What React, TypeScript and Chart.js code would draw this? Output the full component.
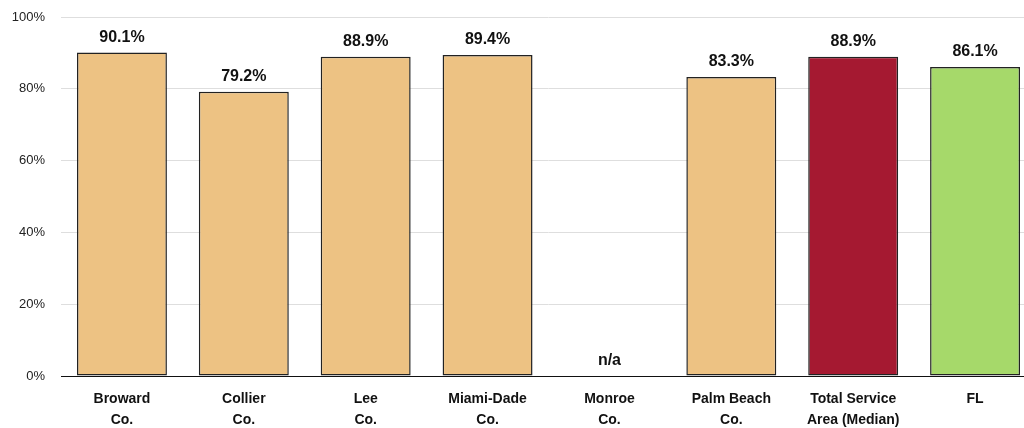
import React, { useEffect, useRef } from "react";
import { Chart, registerables } from "chart.js";

Chart.register(...registerables);

const categories: string[][] = [
  ["Broward", "Co."],
  ["Collier", "Co."],
  ["Lee", "Co."],
  ["Miami-Dade", "Co."],
  ["Monroe", "Co."],
  ["Palm Beach", "Co."],
  ["Total Service", "Area (Median)"],
  ["FL"],
];
const values: (number | null)[] = [90.1, 79.2, 88.9, 89.4, null, 83.3, 88.9, 86.1];
const barColors: string[] = ["#EDC283", "#EDC283", "#EDC283", "#EDC283", "#EDC283", "#EDC283", "#A51931", "#A6D96A"];
const yTicks: number[] = [0, 20, 40, 60, 80, 100];
const missingLabel = "n/a";

const FONT = "'Liberation Sans', Arial, sans-serif";

const labelPlugin = {
  id: "valueLabels",
  afterDatasetsDraw(chart: any) {
    const ctx = chart.ctx;
    const meta = chart.getDatasetMeta(0);
    const yScale = chart.scales.y;
    ctx.save();
    ctx.font = `bold 16px ${FONT}`;
    ctx.fillStyle = "#111";
    ctx.textAlign = "center";
    ctx.textBaseline = "alphabetic";
    values.forEach((v, i) => {
      const el = meta.data[i];
      const x = el.x;
      if (v === null) {
        ctx.fillText(missingLabel, x, yScale.getPixelForValue(0) - 11);
      } else {
        ctx.fillText(v.toFixed(1) + "%", x, yScale.getPixelForValue(v) - 11);
      }
    });
    ctx.restore();
  },
};

export default function App() {
  const ref = useRef<HTMLCanvasElement>(null);
  useEffect(() => {
    document.body.style.margin = "0";
    document.body.style.overflow = "hidden";
    const chart = new Chart(ref.current!, {
      type: "bar",
      data: {
        labels: categories,
        datasets: [
          {
            data: values,
            backgroundColor: barColors,
            borderColor: "#222222",
            borderWidth: 1.5,
            borderSkipped: false,
            categoryPercentage: 1,
            barPercentage: 0.738,
          },
        ],
      },
      options: {
        animation: false,
        responsive: false,
        maintainAspectRatio: false,
        layout: { padding: { top: 17, right: 4, left: 0, bottom: 0 } },
        plugins: { legend: { display: false }, tooltip: { enabled: false } },
        scales: {
          x: {
            grid: { display: false },
            border: { display: true, color: "#111", width: 1 },
            ticks: {
              color: "#111",
              font: { family: FONT, size: 14, weight: "bold", lineHeight: 1.5 },
              padding: 5,
              maxRotation: 0,
              autoSkip: false,
            },
            afterFit: (s: any) => {
              s.height = 52;
            },
          },
          y: {
            min: 0,
            max: 100,
            afterBuildTicks: (s: any) => {
              s.ticks = yTicks.map((v) => ({ value: v }));
            },
            grid: { color: "#dedede", drawTicks: false },
            border: { display: false },
            ticks: {
              color: "#222",
              font: { family: FONT, size: 13 },
              padding: 16,
              callback: (v: any) => v + "%",
            },
            afterFit: (s: any) => {
              s.width = 61;
              s.paddingTop = 0;
              s.paddingBottom = 0;
            },
          },
        },
      },
      plugins: [labelPlugin],
    });
    return () => chart.destroy();
  }, []);
  return (
    <div style={{ width: 1024, height: 428, overflow: "hidden" }}>
      <canvas ref={ref} width={1040} height={428} style={{ display: "block" }} />
    </div>
  );
}
